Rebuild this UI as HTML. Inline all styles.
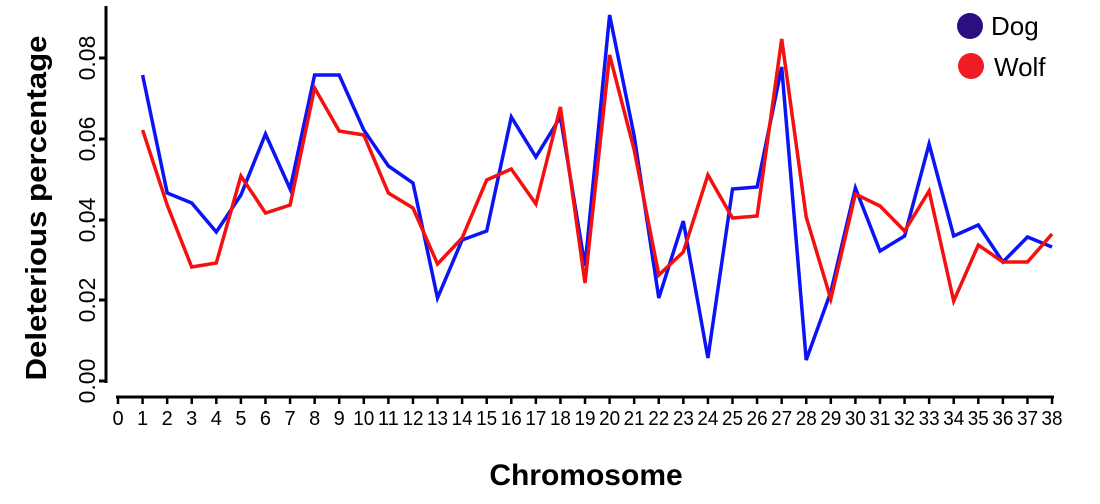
<!DOCTYPE html>
<html><head><style>
html,body{margin:0;padding:0;background:#fff;}
svg{display:block;font-family:"Liberation Sans",Arial,sans-serif;}
</style></head><body>
<svg width="1100" height="504" viewBox="0 0 1100 504" xmlns="http://www.w3.org/2000/svg">
<g stroke="#000" stroke-width="3" fill="none">
<line x1="106" y1="6" x2="106" y2="383"/>
<line x1="99" y1="58" x2="106" y2="58"/>
<line x1="99" y1="139" x2="106" y2="139"/>
<line x1="99" y1="220" x2="106" y2="220"/>
<line x1="99" y1="300" x2="106" y2="300"/>
<line x1="99" y1="381" x2="106" y2="381"/>
<line x1="116" y1="397" x2="1054" y2="397"/>
</g>
<g id="ticks" stroke="#000" stroke-width="2.5"></g>
<g font-size="23" fill="#000" text-anchor="middle">
<text transform="translate(95,58) rotate(-90)">0.08</text>
<text transform="translate(95,139) rotate(-90)">0.06</text>
<text transform="translate(95,220) rotate(-90)">0.04</text>
<text transform="translate(95,300) rotate(-90)">0.02</text>
<text transform="translate(95,381) rotate(-90)">0.00</text>
</g>
<g id="xl" font-size="20" fill="#000" text-anchor="middle"></g>
<text transform="translate(46,208) rotate(-90)" font-size="29" font-weight="bold" text-anchor="middle" textLength="345" lengthAdjust="spacingAndGlyphs">Deleterious percentage</text>
<text x="586" y="485" font-size="30" font-weight="bold" text-anchor="middle">Chromosome</text>
<circle cx="970" cy="26" r="13" fill="#2a0e82"/>
<circle cx="971" cy="66" r="13" fill="#f01c24"/>
<text x="991" y="35" font-size="26">Dog</text>
<text x="994" y="76" font-size="26">Wolf</text>
<polyline id="blue" fill="none" stroke="#0a14f5" stroke-width="3.5"/>
<polyline id="red" fill="none" stroke="#f51010" stroke-width="3.5"/>
<script>
var b=[75,193,203,232,195,134,189,75,75,130,166,183,298,240,231,117,157,117,266,15,136,298,221,358,189,187,67,360,292,188,251,236,144,236,225,262,237,247];
var r=[130,205,267,263,176,213,205,88,131,135,193,208,264,238,180,169,204,107,283,55,150,275,252,175,218,216,39,217,299,194,206,231,191,301,245,262,262,234];
function X(i){return 118+i*24.58;}
var pb=b.map(function(y,k){return X(k+1).toFixed(1)+","+y}).join(" ");
var pr=r.map(function(y,k){return X(k+1).toFixed(1)+","+y}).join(" ");
document.getElementById("blue").setAttribute("points",pb);
document.getElementById("red").setAttribute("points",pr);
var ns="http://www.w3.org/2000/svg",t=document.getElementById("ticks"),l=document.getElementById("xl");
for(var i=0;i<=38;i++){var ln=document.createElementNS(ns,"line");ln.setAttribute("x1",X(i));ln.setAttribute("x2",X(i));ln.setAttribute("y1",397);ln.setAttribute("y2",404);t.appendChild(ln);
var tx=document.createElementNS(ns,"text");tx.setAttribute("x",X(i));tx.setAttribute("y",425);tx.textContent=i;if(i>=10){tx.setAttribute("textLength","21");tx.setAttribute("lengthAdjust","spacingAndGlyphs");}l.appendChild(tx);}
</script>
</svg>
</body></html>
